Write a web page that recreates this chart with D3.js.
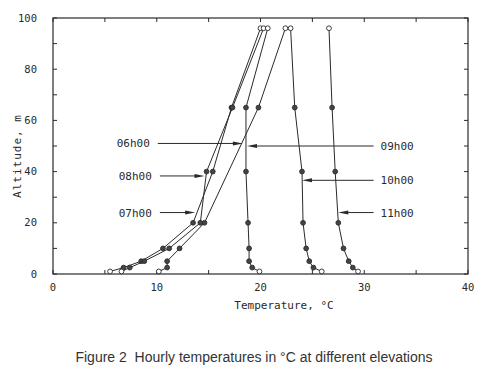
<!DOCTYPE html>
<html>
<head>
<meta charset="utf-8">
<script src="https://cdn.jsdelivr.net/npm/d3@7"></script>
<style>
  html, body { margin: 0; padding: 0; background: #fff; }
  svg { display: block; }
</style>
</head>
<body>
<svg id="chart" width="498" height="372"></svg>
<script>
// ---- data ----
const altitudes = [1, 2.5, 5, 10, 20, 40, 65, 96];
const seriesNames = ["06h00", "07h00", "08h00", "09h00", "10h00", "11h00"];
const t06 = [10.2, 11.0, 11.0, 12.2, 14.6, null, 19.8, 22.4];
const t07 = [5.5, 6.8, 8.5, 10.6, 13.5, 15.4, 17.2, 20.0];
const t08 = [6.6, 7.4, 8.8, 11.2, 14.2, 14.8, 17.3, 20.3];
const t09 = [19.9, 19.2, 18.9, 18.9, 18.8, 18.6, 18.6, 20.7];
const t10 = [25.9, 25.1, 24.7, 24.4, 24.1, 24.0, 23.3, 22.9];
const t11 = [29.4, 28.9, 28.5, 28.0, 27.5, 27.2, 26.9, 26.6];
const seriesValues = [t06, t07, t08, t09, t10, t11];

// annotation arrows: label, altitude, tail temperature, tip temperature
const labelAlt  = [51, 24, 38.3, 50, 36.6, 24];
const arrowTail = [10.1, 10.3, 10.3, 30.9, 30.9, 30.9];
const arrowTip  = [18.3, 13.7, 14.6, 18.7, 24.0, 27.5];

const xTicks = [0, 10, 20, 30, 40];
const yTicks = [0, 20, 40, 60, 80, 100];

// ---- chart ----
const svg = d3.select("#chart");
const x = d3.scaleLinear().domain([0, 40]).range([53, 468]);
const y = d3.scaleLinear().domain([0, 100]).range([274, 18]);
const ink = "#2a2a2a";
const mono = "'DejaVu Sans Mono', monospace";

// frame
svg.append("rect")
  .attr("x", x(0)).attr("y", y(100))
  .attr("width", x(40) - x(0)).attr("height", y(0) - y(100))
  .attr("fill", "none").attr("stroke", ink).attr("stroke-width", 1.2);

// inward ticks
const minorX = d3.range(0, 41, 5);
const minorY = d3.range(0, 101, 10);
const g = svg.append("g").attr("stroke", ink).attr("stroke-width", 1);
minorX.forEach(v => {
  g.append("line").attr("x1", x(v)).attr("x2", x(v)).attr("y1", y(0)).attr("y2", y(0) - 4);
  g.append("line").attr("x1", x(v)).attr("x2", x(v)).attr("y1", y(100)).attr("y2", y(100) + 4);
});
minorY.forEach(v => {
  g.append("line").attr("y1", y(v)).attr("y2", y(v)).attr("x1", x(0)).attr("x2", x(0) + 4);
  g.append("line").attr("y1", y(v)).attr("y2", y(v)).attr("x1", x(40)).attr("x2", x(40) - 4);
});

// tick labels
svg.append("g").selectAll("text").data(xTicks).join("text")
  .attr("x", d => x(d)).attr("y", y(0) + 17)
  .attr("text-anchor", "middle")
  .attr("font-family", mono).attr("font-size", 10.5).attr("fill", ink)
  .text(d => d);
svg.append("g").selectAll("text").data(yTicks).join("text")
  .attr("x", x(0) - 16).attr("y", d => y(d) + 3.5)
  .attr("text-anchor", "end")
  .attr("font-family", mono).attr("font-size", 10.5).attr("fill", ink)
  .text(d => d);

// axis titles
svg.append("text")
  .attr("x", 284).attr("y", 309)
  .attr("text-anchor", "middle")
  .attr("font-family", mono).attr("font-size", 11).attr("fill", ink)
  .text("Temperature, °C");
svg.append("text")
  .attr("transform", `translate(21, ${(y(0) + y(100)) / 2 + 10}) rotate(-90)`)
  .attr("text-anchor", "middle")
  .attr("font-family", mono).attr("font-size", 11).attr("letter-spacing", 1).attr("fill", ink)
  .text("Altitude, m");

// caption
svg.append("text")
  .attr("x", 254).attr("y", 362)
  .attr("text-anchor", "middle")
  .attr("font-family", "'Liberation Sans', Arial, sans-serif").attr("font-size", 14)
  .attr("fill", "#333")
  .style("white-space", "pre")
  .text("Figure 2  Hourly temperatures in °C at different elevations");

// lines
const line = d3.line()
  .x(d => x(d.t)).y(d => y(d.a));

seriesValues.forEach((vals, si) => {
  const pts = altitudes.map((a, i) => ({ a, t: vals[i], i }));
  const valid = pts.filter(p => p.t !== null);
  svg.append("path")
    .datum(valid)
    .attr("d", line)
    .attr("fill", "none").attr("stroke", ink).attr("stroke-width", 1);
  svg.append("g").selectAll("circle").data(valid).join("circle")
    .attr("cx", d => x(d.t)).attr("cy", d => y(d.a))
    .attr("r", 2.4)
    .attr("fill", d => (d.i === 0 || d.i === altitudes.length - 1) ? "#fff" : "#444")
    .attr("stroke", ink).attr("stroke-width", 0.9);
});

// annotation arrows
seriesNames.forEach((name, i) => {
  const yy = y(labelAlt[i]);
  const x0 = x(arrowTail[i]), x1 = x(arrowTip[i]);
  const dir = Math.sign(x1 - x0);
  svg.append("line")
    .attr("x1", x0).attr("x2", x1 - dir * 6).attr("y1", yy).attr("y2", yy)
    .attr("stroke", ink).attr("stroke-width", 1);
  svg.append("path")
    .attr("d", `M${x1},${yy} L${x1 - dir * 10},${yy - 2} L${x1 - dir * 10},${yy + 2} Z`)
    .attr("fill", ink);
  const leftSide = dir > 0;
  svg.append("text")
    .attr("x", leftSide ? x0 - 8 : x0 + 7)
    .attr("y", yy + 4)
    .attr("text-anchor", leftSide ? "end" : "start")
    .attr("font-family", mono).attr("font-size", 11).attr("fill", ink)
    .text(name);
});
</script>
</body>
</html>
